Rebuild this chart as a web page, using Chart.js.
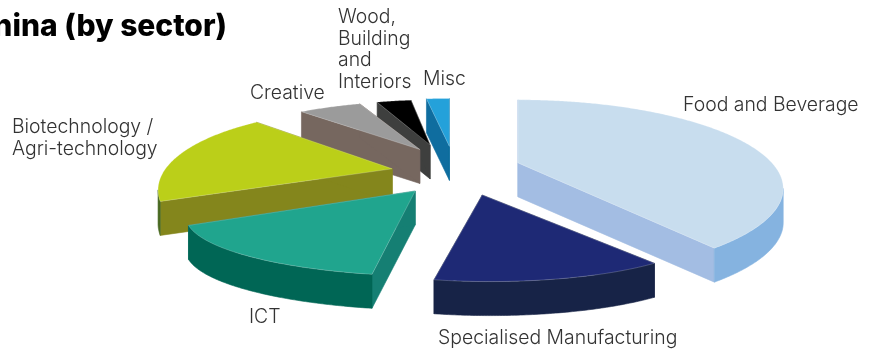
<!DOCTYPE html>
<html>
<head>
<meta charset="utf-8">
<style>
  html, body { margin: 0; padding: 0; background: #fff; }
  #wrap { position: relative; width: 874px; height: 349px; overflow: hidden; }
</style>
<script src="https://cdn.jsdelivr.net/npm/chart.js@4/dist/chart.umd.min.js"></script>
</head>
<body>
<div id="wrap"><canvas id="myChart" width="874" height="349"></canvas></div>
<script>
const sectors = ['Food and Beverage', 'Specialised Manufacturing', 'ICT', 'Biotechnology / Agri-technology', 'Creative', 'Wood, Building and Interiors', 'Misc'];
const shares = [40, 13, 15, 20, 6, 4, 2];

// slice styling, same order as sectors
const topColors = ['#c8ddee', '#1e2975', '#20a58e', '#bbcf19', '#9b9b9b', '#000000', '#24a1da'];
const sideColors = ['#a3bde3', '#172347', '#157f73', '#84861c', '#76675f', '#3e3f3e', '#0f6d9f'];
const rimColors = ['#85b3e0', '#172347', '#006655', '#4a6a22', '#76675f', '#3e3f3e', '#0f6d9f'];
const explode = [61, 79, 78, 69, 75, 80, 73];
const nudgeX = [0, 5, 3, 0, 0, -10, -6];
const nudgeY = [-1, 0, 1, 3, 0, 0, 0];

// each slice gets its own foreshortening, the pie is not a clean ellipse
const rimScaleX = [1, 0.836, 0.94, 0.8, 0.84, 0.7, 0.94];
const rimScaleY = [0.985, 0.62, 0.66, 0.89, 0.75, 0.65, 0.76];
const rimShiftX = [0, 8, 20, -22, 1, -2, 0];
const rimShiftY = [-1, 14, 8, -3, -1, -4, 0];

// tilt of the pie
const squash = 0.324;
const keystone = 0.3;
const wallDepth = 34;

const labelLines = [['Food and Beverage'], ['Specialised Manufacturing'], ['ICT'], ['Biotechnology /', 'Agri-technology'], ['Creative'], ['Wood,', 'Building', 'and', 'Interiors'], ['Misc']];
const labelAt = [[683, 111], [438, 344], [249, 323], [12, 133], [250, 99], [338, 23], [423, 85]];
const labelFont = '300 19.4px Inter';
const titleText = 'China (by sector)';

function project(s, angle, depth) {
  const u = Math.cos(angle);
  const v = -Math.sin(angle);
  const w = 1 + keystone * v;
  return [
    s.x + s.shiftX + s.R * s.scaleX * u / w,
    s.y + s.shiftY - s.R * squash * s.scaleY * v / w + depth
  ];
}

// walks the rim between two angles in small steps
function tracePoints(s, from, to, depth) {
  const pts = [];
  const steps = Math.max(2, Math.ceil(Math.abs(to - from) / 0.01));
  for (let i = 0; i <= steps; i++) {
    pts.push(project(s, from + (to - from) * i / steps, depth));
  }
  return pts;
}

function fillPoly(ctx, pts, color, edge) {
  ctx.beginPath();
  pts.forEach((p, i) => i ? ctx.lineTo(p[0], p[1]) : ctx.moveTo(p[0], p[1]));
  ctx.closePath();
  ctx.fillStyle = color;
  ctx.fill();
  ctx.strokeStyle = edge || color;
  ctx.lineWidth = 0.6;
  ctx.stroke();
}

function drawSlice(ctx, arc, i) {
  const p = arc.getProps(['x', 'y', 'startAngle', 'endAngle', 'outerRadius'], true);
  const mid = (p.startAngle + p.endAngle) / 2;
  const off = arc.options.offset;
  const s = {
    x: p.x + off * Math.cos(mid) + nudgeX[i],
    y: p.y + off * Math.sin(mid) * squash + nudgeY[i],
    R: p.outerRadius,
    scaleX: rimScaleX[i],
    scaleY: rimScaleY[i],
    shiftX: rimShiftX[i],
    shiftY: rimShiftY[i]
  };
  const apex = [s.x, s.y];
  const low = [s.x, s.y + wallDepth];

  // straight walls
  [p.startAngle, p.endAngle].forEach(a => {
    const top = project(s, a, 0);
    const bottom = project(s, a, wallDepth);
    fillPoly(ctx, [apex, top, bottom, low], sideColors[i]);
  });

  // curved wall, only the part that faces the front
  const turn = Math.acos(-keystone);
  const frontFrom = Math.max(p.startAngle, turn - Math.PI / 2);
  const frontTo = Math.min(p.endAngle, 3 * Math.PI / 2 - turn);
  if (frontTo > frontFrom) {
    const upper = tracePoints(s, frontFrom, frontTo, 0);
    const lower = tracePoints(s, frontTo, frontFrom, wallDepth);
    fillPoly(ctx, upper.concat(lower), rimColors[i]);
  }

  const rim = tracePoints(s, p.startAngle, p.endAngle, 0);
  fillPoly(ctx, [apex].concat(rim), topColors[i], 'rgba(255,255,255,0.35)');
}

const pie3d = {
  id: 'pie3d',
  beforeDatasetDraw(chart, args) {
    const ctx = chart.ctx;
    const arcs = args.meta.data;
    ctx.save();
    // back slices first
    [6, 5, 4, 3, 2, 1, 0].forEach(i => drawSlice(ctx, arcs[i], i));
    ctx.restore();
    return false;
  },
  afterDraw(chart) {
    const ctx = chart.ctx;
    ctx.save();
    ctx.textBaseline = 'alphabetic';
    ctx.fillStyle = '#333333';
    ctx.font = labelFont;
    labelLines.forEach((lines, i) => {
      lines.forEach((line, j) => {
        ctx.fillText(line, labelAt[i][0], labelAt[i][1] + j * 21.5);
      });
    });
    ctx.fillStyle = '#000';
    ctx.font = '800 30px Inter';
    ctx.textAlign = 'right';
    ctx.fillText(titleText, 227, 36);
    ctx.restore();
  }
};

new Chart(document.getElementById('myChart').getContext('2d'), {
  type: 'pie',
  data: {
    labels: sectors,
    datasets: [{
      data: shares,
      offset: explode
    }]
  },
  options: {
    responsive: false,
    animation: false,
    radius: 253,
    layout: { padding: { left: 46, bottom: 9 } },
    plugins: { legend: { display: false }, tooltip: { enabled: false } }
  },
  plugins: [pie3d]
});
</script>
</body>
</html>
